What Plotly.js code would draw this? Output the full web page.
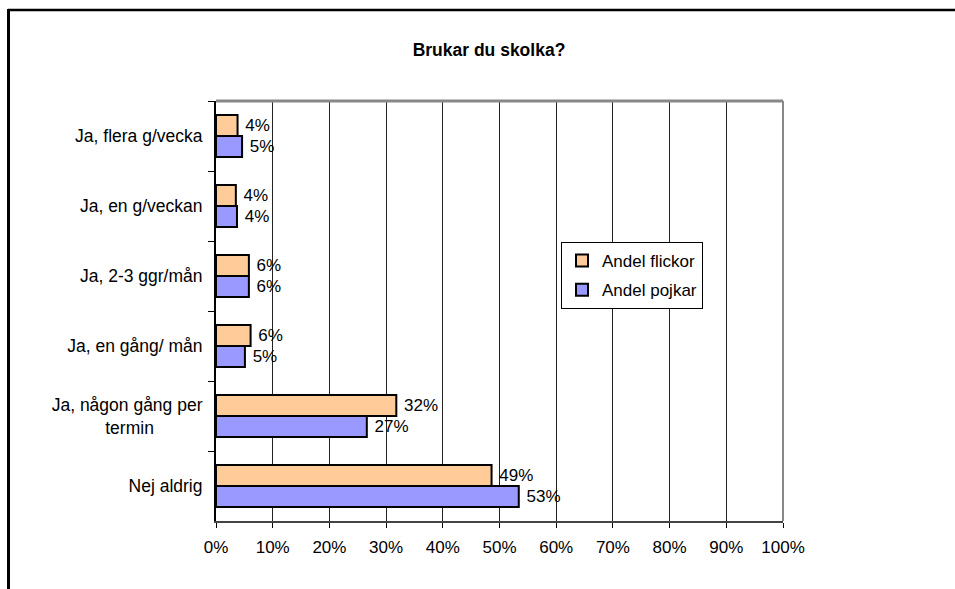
<!DOCTYPE html>
<html><head><meta charset="utf-8">
<script src="https://cdn.plot.ly/plotly-3.0.1.min.js"></script>
<style>html,body{margin:0;padding:0;background:#fff;}#chart{width:955px;height:589px;}</style>
</head><body><div id="chart"></div>
<script>
const NB = "\u00a0";
const categories = [
  "Ja, flera g/vecka",
  "Ja, en g/veckan",
  "Ja, 2-3 ggr/mån",
  "Ja, en gång/ mån",
  "Ja, någon gång per<br>termin" + NB.repeat(10),
  "Nej aldrig"
];
const flickor = [3.8, 3.5, 5.8, 6.1, 31.8, 48.6];
const pojkar  = [4.6, 3.7, 5.8, 5.1, 26.6, 53.4];
const seriesNames = ["Andel flickor", "Andel pojkar"];
const xTickVals = [0, 10, 20, 30, 40, 50, 60, 70, 80, 90, 100];
const xTickText = ["0%", "10%", "20%", "30%", "40%", "50%", "60%", "70%", "80%", "90%", "100%"];

const FONT = "Liberation Sans, Arial, sans-serif";
const lbl = v => NB + Math.round(v) + "%";

const traces = [
  {type:'bar', orientation:'h', name:seriesNames[0], legendgroup:'a',
   x:flickor, y:categories, text:flickor.map(lbl), textposition:'outside',
   textfont:{family:FONT, size:17, color:'#000'}, cliponaxis:false, constraintext:'none',
   marker:{color:'#FFCC99', line:{color:'#000', width:2}}, hoverinfo:'x+name'},
  {type:'bar', orientation:'h', name:seriesNames[1], legendgroup:'b',
   x:pojkar, y:categories, text:pojkar.map(lbl), textposition:'outside',
   textfont:{family:FONT, size:17, color:'#000'}, cliponaxis:false, constraintext:'none',
   marker:{color:'#9999FF', line:{color:'#000', width:2}}, hoverinfo:'x+name'}
];

const L = 216, R = 783, T = 101, B = 521;
const px = v => (v - L) / (R - L);
const py = v => (B - v) / (B - T);

const layout = {
  width:955, height:589,
  margin:{l:L, r:955-R, t:T, b:589-B, pad:0},
  paper_bgcolor:'#fff', plot_bgcolor:'#fff',
  font:{family:FONT, size:17, color:'#000'},
  title:{text:'<b>Brukar du skolka?</b>', font:{family:FONT, size:17.5, color:'#000'},
         x:489/955, xref:'container', xanchor:'center', y:1-49.5/589, yref:'container', yanchor:'middle'},
  barmode:'group', bargap:0.4, bargroupgap:0,
  xaxis:{range:[0,100], tickmode:'array', tickvals:xTickVals, ticktext:xTickText,
         showgrid:true, gridcolor:'#222', gridwidth:1, zeroline:false,
         showline:true, linecolor:'#444', linewidth:2,
         ticks:'outside', ticklen:5, tickcolor:'#000', tickwidth:1,
         ticklabelstandoff:5, tickfont:{family:FONT, size:17, color:'#000'}, fixedrange:true},
  yaxis:{type:'category', autorange:'reversed', tickson:'boundaries',
         showgrid:false, zeroline:false, showline:true, linecolor:'#000', linewidth:2,
         ticks:'outside', ticklen:6, tickcolor:'#000', tickwidth:1,
         ticklabelstandoff:8, tickfont:{family:FONT, size:17.5, color:'#000'}, fixedrange:true},
  legend:{x:px(561), y:py(242), xanchor:'left', yanchor:'top',
          bordercolor:'#000', borderwidth:1, bgcolor:'#fff',
          font:{family:FONT, size:17, color:'#000'},
          traceorder:'grouped', tracegroupgap:4, itemwidth:30},
  shapes:[
    {type:'line', xref:'paper', yref:'paper', x0:0, x1:1, y0:1, y1:1, line:{color:'#888', width:3}},
    {type:'line', xref:'paper', yref:'paper', x0:1, x1:1, y0:0, y1:1, line:{color:'#888', width:2}},
    {type:'line', xref:'paper', yref:'paper', x0:px(8), x1:px(960), y0:py(10), y1:py(10), line:{color:'#000', width:2.5}},
    {type:'line', xref:'paper', yref:'paper', x0:px(8.5), x1:px(8.5), y0:py(9), y1:py(600), line:{color:'#000', width:3}}
  ],
  showlegend:true
};

Plotly.newPlot('chart', traces, layout, {displayModeBar:false, staticPlot:true});
</script>
</body></html>
